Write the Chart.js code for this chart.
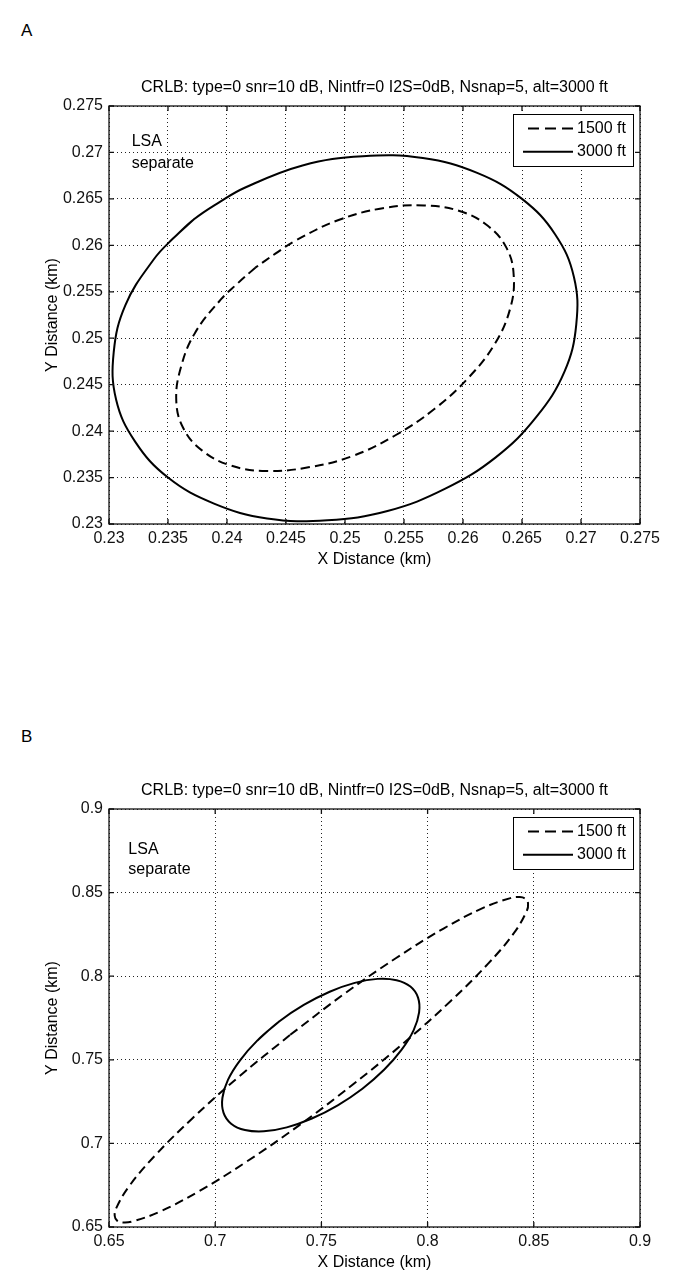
<!DOCTYPE html>
<html>
<head>
<meta charset="utf-8">
<script src="https://cdn.jsdelivr.net/npm/chart.js@4"></script>
<style>
  body { margin:0; background:#fff; width:685px; height:1287px; position:relative; overflow:hidden; font-family:'Liberation Sans', Arial, sans-serif; }
  .panel-label { position:absolute; left:21px; font-size:17px; color:#000; }
  .chart-box { position:absolute; left:0; width:685px; height:530px; }
</style>
</head>
<body>
<div class="panel-label" style="top:21px">A</div>
<div class="panel-label" style="top:727px">B</div>
<div class="chart-box" style="top:60px"><canvas id="chartA" width="685" height="530"></canvas></div>
<div class="chart-box" style="top:763px"><canvas id="chartB" width="685" height="530"></canvas></div>
<script>
const titleText = 'CRLB: type=0 snr=10 dB, Nintfr=0 I2S=0dB, Nsnap=5, alt=3000 ft';
const seriesLabels = ['1500 ft', '3000 ft'];
const noteLines = ['LSA', 'separate'];

// panel A, km (points read around each contour)
const aXTicks = [0.23, 0.235, 0.24, 0.245, 0.25, 0.255, 0.26, 0.265, 0.27, 0.275];
const aYTicks = [0.23, 0.235, 0.24, 0.245, 0.25, 0.255, 0.26, 0.265, 0.27, 0.275];
const a1500X = [0.2424, 0.2409, 0.2395, 0.2373, 0.2361, 0.2357, 0.2363, 0.2379, 0.2403, 0.2433, 0.2469, 0.2506, 0.2542, 0.2576, 0.2605, 0.2627, 0.2640, 0.2643, 0.2637, 0.2621, 0.2597, 0.2567, 0.2532, 0.2494, 0.2458, 0.2441, 0.2424];
const a1500Y = [0.2576, 0.2559, 0.2542, 0.2506, 0.2469, 0.2433, 0.2403, 0.2379, 0.2363, 0.2357, 0.2361, 0.2373, 0.2395, 0.2424, 0.2458, 0.2494, 0.2532, 0.2567, 0.2597, 0.2621, 0.2637, 0.2643, 0.2640, 0.2627, 0.2605, 0.2591, 0.2576];
const a3000X = [0.2372, 0.2354, 0.2338, 0.2314, 0.2304, 0.2306, 0.2322, 0.2350, 0.2389, 0.2434, 0.2485, 0.2536, 0.2585, 0.2628, 0.2662, 0.2686, 0.2696, 0.2694, 0.2678, 0.2650, 0.2612, 0.2566, 0.2515, 0.2464, 0.2415, 0.2393, 0.2372];
const a3000Y = [0.2628, 0.2607, 0.2585, 0.2536, 0.2485, 0.2434, 0.2389, 0.2350, 0.2322, 0.2306, 0.2304, 0.2314, 0.2338, 0.2372, 0.2415, 0.2464, 0.2515, 0.2566, 0.2612, 0.2650, 0.2678, 0.2694, 0.2696, 0.2686, 0.2662, 0.2646, 0.2628];

// panel B, km
const bXTicks = [0.65, 0.7, 0.75, 0.8, 0.85, 0.9];
const bYTicks = [0.65, 0.7, 0.75, 0.8, 0.85, 0.9];
const b1500X = [0.7352, 0.7108, 0.6891, 0.6715, 0.6593, 0.6533, 0.6527, 0.6538, 0.6566, 0.6610, 0.6741, 0.6925, 0.7148, 0.7395, 0.7648, 0.7892, 0.8109, 0.8285, 0.8407, 0.8467, 0.8473, 0.8462, 0.8434, 0.8390, 0.8259, 0.8075, 0.7852, 0.7605, 0.7352];
const b1500Y = [0.7648, 0.7395, 0.7148, 0.6925, 0.6741, 0.6610, 0.6566, 0.6538, 0.6527, 0.6533, 0.6593, 0.6715, 0.6891, 0.7108, 0.7352, 0.7605, 0.7852, 0.8075, 0.8259, 0.8390, 0.8434, 0.8462, 0.8473, 0.8467, 0.8407, 0.8285, 0.8109, 0.7892, 0.7648];
const b3000X = [0.7301, 0.7199, 0.7117, 0.7060, 0.7034, 0.7039, 0.7075, 0.7140, 0.7229, 0.7337, 0.7455, 0.7577, 0.7693, 0.7795, 0.7877, 0.7934, 0.7960, 0.7955, 0.7919, 0.7854, 0.7765, 0.7657, 0.7539, 0.7417, 0.7301];
const b3000Y = [0.7729, 0.7616, 0.7497, 0.7380, 0.7273, 0.7184, 0.7118, 0.7080, 0.7072, 0.7096, 0.7149, 0.7228, 0.7327, 0.7440, 0.7559, 0.7676, 0.7783, 0.7872, 0.7938, 0.7976, 0.7984, 0.7960, 0.7907, 0.7828, 0.7729];

const FONT = "'Liberation Sans', Arial, sans-serif";
const fmt = v => String(+(+v).toFixed(3));
// closed contours: solid ones run one point past the start so the join is smooth
const toPoints = (xs, ys, overlap) => {
  const pts = xs.map((x, i) => ({ x: x, y: ys[i] }));
  if (overlap) pts.push({ x: xs[1], y: ys[1] });
  return pts;
};

// matlab style box, inner ticks, legend box and text note
const framePlugin = {
  id: 'matlabFrame',
  afterDatasetsDraw(chart) {
    const { ctx, chartArea: a, scales } = chart;
    const note = chart.options.plugins.matlabFrame.note;
    ctx.save();
    ctx.fillStyle = '#000';
    ctx.font = '16px ' + FONT;
    ctx.textBaseline = 'middle';
    ctx.textAlign = 'left';
    const nx = scales.x.getPixelForValue(note.x);
    note.y.forEach((yv, i) => ctx.fillText(noteLines[i], nx, scales.y.getPixelForValue(yv)));

    // legend
    const w = 120, h = 52;
    const bx = Math.round(a.right - 7 - w), by = Math.round(a.top + 8);
    ctx.fillStyle = '#fff';
    ctx.fillRect(bx, by, w, h);
    ctx.strokeStyle = '#000';
    ctx.lineWidth = 1;
    ctx.strokeRect(bx + 0.5, by + 0.5, w, h);
    chart.data.datasets.forEach((ds, i) => {
      const cy = by + 14.5 + i * 23.3;
      ctx.setLineDash(ds.borderDash ? [11, 6] : []);
      ctx.lineWidth = ds.borderWidth;
      ctx.beginPath();
      ctx.moveTo(ds.borderDash ? bx + 15 : bx + 10, cy);
      ctx.lineTo(bx + 60, cy);
      ctx.stroke();
      ctx.setLineDash([]);
      ctx.fillStyle = '#000';
      ctx.fillText(ds.label, bx + 64, cy);
    });
    ctx.restore();
  },
  afterDraw(chart) {
    const { ctx, chartArea: a, scales } = chart;
    ctx.save();
    ctx.strokeStyle = '#111';
    ctx.lineWidth = 1.3;
    ctx.setLineDash([]);
    ctx.beginPath();
    scales.x.ticks.forEach(t => {
      const px = scales.x.getPixelForValue(t.value);
      ctx.moveTo(px, a.bottom); ctx.lineTo(px, a.bottom - 5);
      ctx.moveTo(px, a.top); ctx.lineTo(px, a.top + 5);
    });
    scales.y.ticks.forEach(t => {
      const py = scales.y.getPixelForValue(t.value);
      ctx.moveTo(a.left, py); ctx.lineTo(a.left + 5, py);
      ctx.moveTo(a.right, py); ctx.lineTo(a.right - 5, py);
    });
    ctx.stroke();
    ctx.strokeRect(a.left, a.top, a.right - a.left, a.bottom - a.top);
    ctx.restore();
  }
};

function makeChart(id, xTicks, yTicks, d1500, d3000, note) {
  const axis = (ticks, title, isX) => ({
    type: 'linear',
    min: ticks[0],
    max: ticks[ticks.length - 1],
    afterBuildTicks: s => { s.ticks = ticks.map(v => ({ value: v })); },
    afterFit: s => { if (isX) s.height = 45.6; else s.width = 109; },
    ticks: { callback: fmt, color: '#111', padding: isX ? 5.4 : 6, autoSkip: false, maxRotation: 0, font: { family: FONT, size: 16 } },
    grid: { color: '#222', lineWidth: 1, drawTicks: false },
    border: { display: false, dash: [1, 3] },
    title: {
      display: true, text: title, color: '#000',
      font: { family: FONT, size: 16 },
      padding: isX ? 0 : { top: 42.5, bottom: 0 }
    }
  });
  return new Chart(document.getElementById(id), {
    type: 'scatter',
    data: {
      datasets: [
        { label: seriesLabels[0], data: d1500, showLine: true, borderColor: '#000', borderWidth: 2, borderDash: [9, 5], pointRadius: 0, tension: 0.4, fill: false },
        { label: seriesLabels[1], data: d3000, showLine: true, borderColor: '#000', borderWidth: 2, pointRadius: 0, tension: 0.4, fill: false }
      ]
    },
    options: {
      responsive: false,
      animation: false,
      devicePixelRatio: 1,
      layout: { padding: { left: 0, right: 45, top: 0, bottom: 20.4 } },
      plugins: {
        legend: { display: false },
        tooltip: { enabled: false },
        title: { display: true, text: titleText, fullSize: false, color: '#000', font: { family: FONT, size: 16, weight: 'normal' }, padding: { top: 17.9, bottom: 8.9 } },
        matlabFrame: { note: note }
      },
      scales: {
        x: axis(xTicks, 'X Distance (km)', true),
        y: axis(yTicks, 'Y Distance (km)', false)
      }
    },
    plugins: [framePlugin]
  });
}

makeChart('chartA', aXTicks, aYTicks, toPoints(a1500X, a1500Y), toPoints(a3000X, a3000Y, true), { x: 0.23192, y: [0.27116, 0.26883] });
makeChart('chartB', bXTicks, bYTicks, toPoints(b1500X, b1500Y), toPoints(b3000X, b3000Y, true), { x: 0.6591, y: [0.87548, 0.86394] });
</script>
</body>
</html>
